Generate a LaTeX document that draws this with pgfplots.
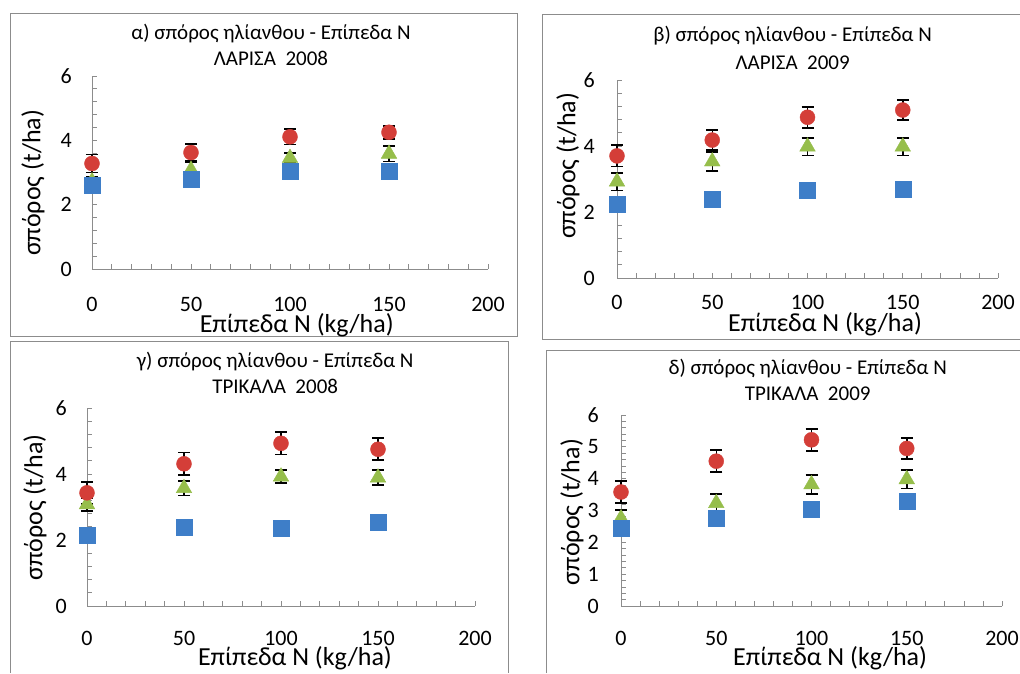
\documentclass[border=0pt]{standalone}
\usepackage{pgfplots}
\pgfplotsset{compat=1.18}
\usepackage{fontspec}
\setmainfont{Carlito}
\definecolor{cred}{RGB}{212,62,56}
\definecolor{cgreen}{RGB}{150,190,75}
\definecolor{cblue}{RGB}{62,126,200}
\definecolor{cframe}{RGB}{140,140,140}
\pgfplotsset{
  panel/.style={
    scale only axis,
    xmin=0, xmax=200, ymin=0, ymax=6,
    axis x line*=bottom, axis y line*=left,
    axis line style={draw=cframe, line width=0.8pt},
    xtick={0,50,100,150,200},
    minor x tick num=4,
    tick align=inside,
    major tick length=5pt, minor tick length=5pt,
    every tick/.style={draw=cframe, line width=0.8pt},
    minor tick style={draw=cframe, line width=0.8pt},
    /pgf/number format/assume math mode=true,
    tick label style={font=\fontsize{22}{26}\selectfont, inner sep=0pt},
    label style={font=\fontsize{26}{30}\selectfont, inner sep=0pt},
    title style={font=\fontsize{21}{26}\selectfont, align=center, anchor=center},
    ylabel={σπόρος (t/ha)},
    xlabel={Επίπεδα N (kg/ha)},
    clip=false,
  },
  errstyle/.style={
    error bars/y dir=both, error bars/y explicit, error bars/error mark=|,
    error bars/error bar style={black, line width=1.5pt},
    error bars/error mark options={black, line width=1.8pt, mark size=6pt}},
  sred/.style={only marks, mark=*, mark size=7.5pt, mark options={fill=cred, draw=cred}, errstyle},
  sgreen/.style={only marks, mark=triangle*, mark size=9pt, mark options={fill=cgreen, draw=cgreen}, errstyle},
  sblue/.style={only marks, mark=square*, mark size=8pt, mark options={fill=cblue, draw=cblue}},
}
\begin{document}
\begin{tikzpicture}[x=1pt,y=1pt]
\path[use as bounding box, fill=white] (0,0) rectangle (1020,673);
% panel frames
\draw[cframe, line width=1pt] (10,659) rectangle (517,336);
\draw[cframe, line width=1pt] (1020,658) -- (542,658) -- (542,333) -- (1020,333);
\draw[cframe, line width=1pt] (10,0) -- (10,331) -- (508,331) -- (508,0);
\draw[cframe, line width=1pt] (546,0) -- (546,322) -- (1020,322);

% a)
\begin{axis}[panel, at={(92pt,404pt)}, anchor=south west, width=396pt, height=193pt,
  ytick={0,2,4,6}, minor y tick num=4,
  xticklabel style={yshift=-28pt}, yticklabel style={xshift=-20pt},
  title={α) σπόρος ηλίανθου - Επίπεδα N\\ΛΑΡΙΣΑ\ \ 2008},
  title style={at={(axis description cs:0.452,1.132)}},
  xlabel style={at={(axis description cs:0.517,-0.29)}, anchor=center},
  ylabel style={at={(axis description cs:-0.149,0.446)}, anchor=center}]
\addplot+[sgreen] coordinates {(0,2.72) +- (0,0.15) (50,3.08) +- (0,0.25) (100,3.45) +- (0,0.15) (150,3.58) +- (0,0.24)};
\addplot+[sblue] coordinates {(0,2.61) (50,2.80) (100,3.03) (150,3.05)};
\addplot+[sred] coordinates {(0,3.28) +- (0,0.28) (50,3.62) +- (0,0.27) (100,4.11) +- (0,0.24) (150,4.25) +- (0,0.2)};
\end{axis}

% b)
\begin{axis}[panel, at={(617pt,395pt)}, anchor=south west, width=381pt, height=198pt,
  ytick={0,2,4,6}, minor y tick num=4,
  xticklabel style={yshift=-17pt}, yticklabel style={xshift=-22pt},
  title={β) σπόρος ηλίανθου - Επίπεδα N\\[2pt]ΛΑΡΙΣΑ\ \ 2009},
  title style={at={(axis description cs:0.461,1.134)}},
  xlabel style={at={(axis description cs:0.546,-0.232)}, anchor=center},
  ylabel style={at={(axis description cs:-0.129,0.566)}, anchor=center}]
\addplot+[sgreen] coordinates {(0,2.92) +- (0,0.27) (50,3.53) +- (0,0.28) (100,3.98) +- (0,0.27) (150,3.98) +- (0,0.27)};
\addplot+[sblue] coordinates {(0,2.24) (50,2.39) (100,2.65) (150,2.69)};
\addplot+[sred] coordinates {(0,3.70) +- (0,0.32) (50,4.18) +- (0,0.31) (100,4.87) +- (0,0.32) (150,5.09) +- (0,0.31)};
\end{axis}

% c)
\begin{axis}[panel, at={(87pt,67pt)}, anchor=south west, width=388pt, height=198pt,
  ytick={0,2,4,6}, minor y tick num=4,
  xticklabel style={yshift=-25pt}, yticklabel style={xshift=-20pt},
  title={γ) σπόρος ηλίανθου - Επίπεδα N\\ΤΡΙΚΑΛΑ\ \ 2008},
  title style={at={(axis description cs:0.485,1.149)}},
  xlabel style={at={(axis description cs:0.536,-0.262)}, anchor=center},
  ylabel style={at={(axis description cs:-0.134,0.497)}, anchor=center}]
\addplot+[sgreen] coordinates {(0,3.08) +- (0,0.2) (50,3.57) +- (0,0.22) (100,3.92) +- (0,0.2) (150,3.89) +- (0,0.23)};
\addplot+[sblue] coordinates {(0,2.15) (50,2.40) (100,2.35) (150,2.55)};
\addplot+[sred] coordinates {(0,3.43) +- (0,0.33) (50,4.31) +- (0,0.34) (100,4.93) +- (0,0.34) (150,4.75) +- (0,0.33)};
\end{axis}

% d)
\begin{axis}[panel, at={(621pt,67pt)}, anchor=south west, width=381pt, height=191pt,
  ytick={0,1,2,3,4,5,6}, minor y tick num=4,
  xticklabel style={yshift=-25pt}, yticklabel style={xshift=-22pt},
  title={δ) σπόρος ηλίανθου - Επίπεδα N\\ΤΡΙΚΑΛΑ\ \ 2009},
  title style={at={(axis description cs:0.49,1.152)}},
  xlabel style={at={(axis description cs:0.549,-0.272)}, anchor=center},
  ylabel style={at={(axis description cs:-0.129,0.492)}, anchor=center}]
\addplot+[sgreen] coordinates {(0,2.75) +- (0,0.27) (50,3.23) +- (0,0.29) (100,3.82) +- (0,0.3) (150,3.98) +- (0,0.29)};
\addplot+[sblue] coordinates {(0,2.45) (50,2.77) (100,3.05) (150,3.28)};
\addplot+[sred] coordinates {(0,3.58) +- (0,0.34) (50,4.55) +- (0,0.35) (100,5.22) +- (0,0.35) (150,4.95) +- (0,0.34)};
\end{axis}
\end{tikzpicture}
\end{document}
